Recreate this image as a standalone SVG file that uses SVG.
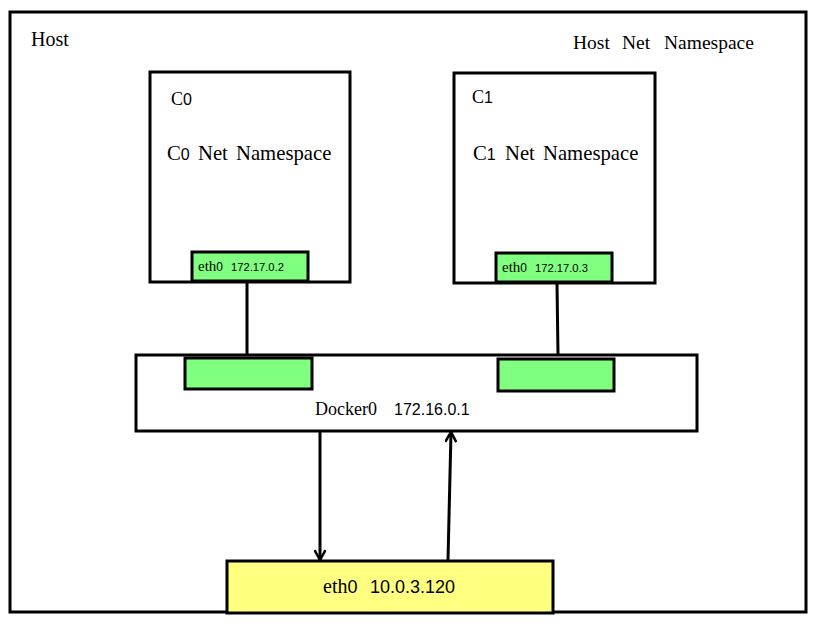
<svg xmlns="http://www.w3.org/2000/svg" width="821" height="624" viewBox="0 0 821 624">
<style>
.box{fill:#fff;stroke:#000;stroke-width:3}
.g{fill:#80ff80;stroke:#000;stroke-width:3}
.y{fill:#ffff80;stroke:#000;stroke-width:3}
.t{font-family:"Liberation Serif",serif;fill:#000}
.d{font-family:"Liberation Sans",sans-serif}
.c{stroke:#000;stroke-width:3;fill:none}
</style>
<defs>
<marker id="ah" viewBox="0 0 12 12" refX="11" refY="6" markerWidth="12" markerHeight="12" markerUnits="userSpaceOnUse" orient="auto">
<path d="M1,0.5 L11,6 L1,11.5" fill="none" stroke="#000" stroke-width="2.5"/>
</marker>
</defs>
<g id="host">
<rect class="box" x="10" y="12" width="796" height="600"/>
<text class="t" x="31" y="46" font-size="20">Host</text>
<text class="t" y="49" font-size="19.5"><tspan x="573">Host</tspan> <tspan x="622">Net</tspan> <tspan x="664">Namespace</tspan></text>
</g>
<g id="c0">
<rect class="box" x="150" y="72" width="200" height="210"/>
<text class="t" x="171" y="105" font-size="18">C<tspan class="d" font-size="16">0</tspan></text>
<text class="t" y="160" font-size="20.7"><tspan x="167">C</tspan><tspan class="d" font-size="16">0</tspan> <tspan x="198">Net</tspan> <tspan x="236">Namespace</tspan></text>
</g>
<g id="c1">
<rect class="box" x="454" y="73" width="201" height="210"/>
<text class="t" x="472" y="103" font-size="18">C<tspan class="d" font-size="16">1</tspan></text>
<text class="t" y="160" font-size="20.7"><tspan x="473">C</tspan><tspan class="d" font-size="16">1</tspan> <tspan x="505">Net</tspan> <tspan x="543">Namespace</tspan></text>
</g>
<g id="c0-eth0">
<rect class="g" x="192" y="252" width="116" height="29"/>
<text class="t" y="271" font-size="15"><tspan x="198">eth</tspan><tspan class="d" font-size="12">0</tspan> <tspan class="d" x="231" font-size="11.2">172.17.0.2</tspan></text>
</g>
<g id="c1-eth0">
<rect class="g" x="496" y="253" width="116" height="29"/>
<text class="t" y="272" font-size="15"><tspan x="502">eth</tspan><tspan class="d" font-size="12">0</tspan> <tspan class="d" x="535" font-size="11.2">172.17.0.3</tspan></text>
</g>
<g id="docker0">
<rect class="box" x="136" y="355" width="561" height="76"/>
<rect class="g" x="185" y="358" width="127" height="31"/>
<rect class="g" x="498" y="359" width="116" height="32"/>
<text class="t" y="415" font-size="18"><tspan x="315">Docker0</tspan> <tspan class="d" x="394" font-size="16">172.16.0.1</tspan></text>
</g>
<g id="host-eth0">
<rect class="y" x="227" y="561" width="326" height="52"/>
<text class="t" y="593" font-size="20"><tspan x="323">eth</tspan><tspan class="d" font-size="18">0</tspan> <tspan class="d" x="370" font-size="18">10.0.3.120</tspan></text>
</g>
<g id="connectors">
<line class="c" x1="247" y1="282" x2="247" y2="355"/>
<line class="c" x1="557" y1="284" x2="558" y2="355"/>
<line class="c" x1="320" y1="431" x2="320" y2="560" marker-end="url(#ah)"/>
<line class="c" x1="448" y1="560" x2="451" y2="432" marker-end="url(#ah)"/>
</g>
</svg>
